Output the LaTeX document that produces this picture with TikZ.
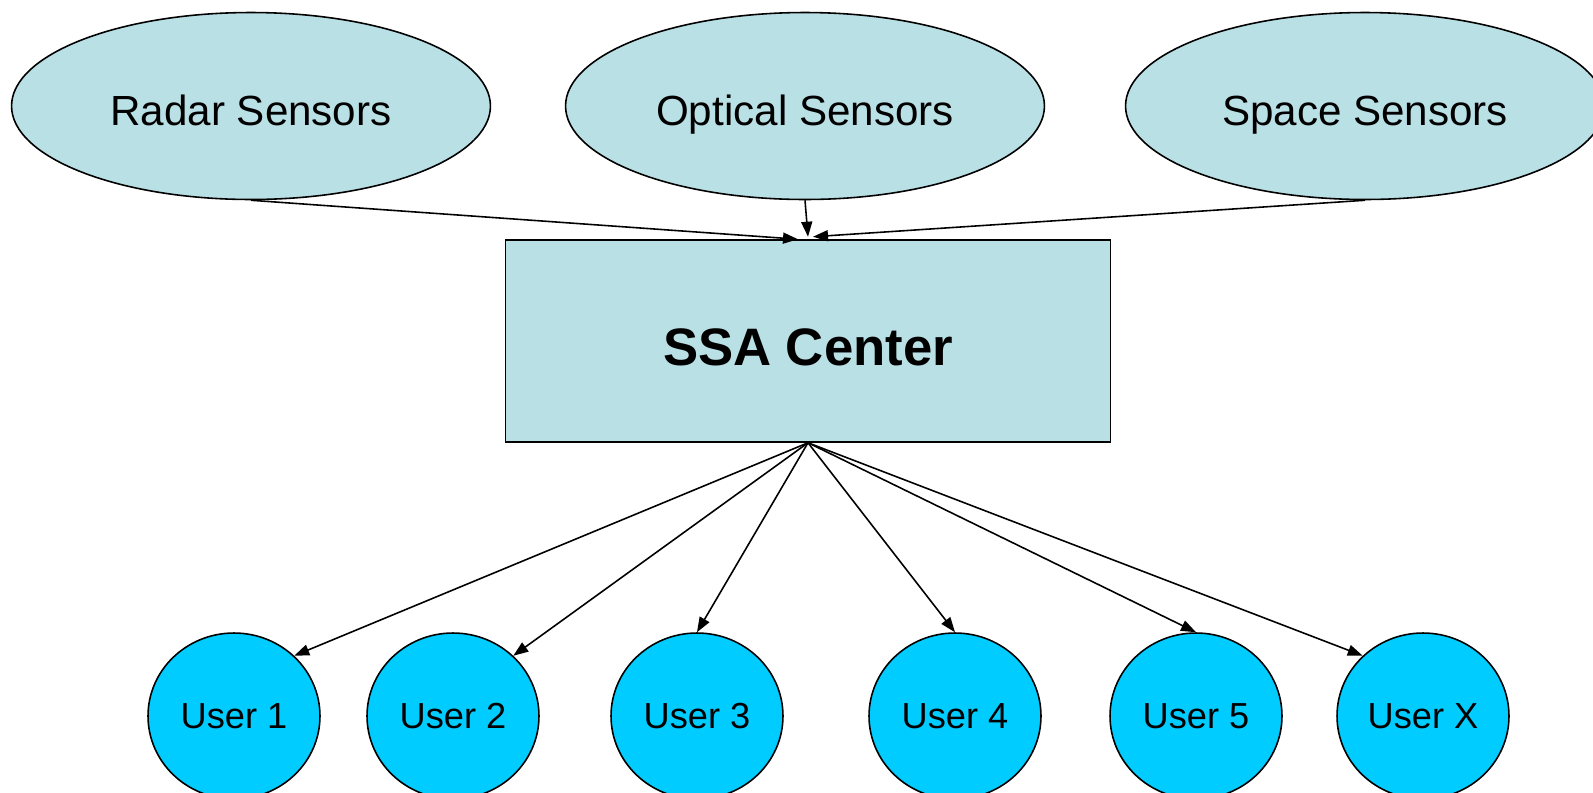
\documentclass[tikz,border=0pt]{standalone}
\usepackage{fontspec}
\setmainfont{Liberation Sans}
\usetikzlibrary{arrows.meta, positioning, shapes.geometric}
\definecolor{SensorBlue}{RGB}{185, 224, 229}
\definecolor{UserCyan}{RGB}{0, 204, 255}

\begin{document}
\begin{tikzpicture}[x=0.02cm, y=-0.02cm, >={Triangle[length=0.3cm, width=0.22cm]}, line width=0.9pt]
        \useasboundingbox (0,0) rectangle (1593,792);
        \tikzset{
            sensor/.style={ellipse, draw, fill=SensorBlue, inner sep=0pt,
                text height=0.76cm, text depth=0cm,
                minimum width=9.58cm, minimum height=3.74cm, font=\fontsize{24}{28}\selectfont},
            center/.style={rectangle, draw, fill=SensorBlue, inner sep=0pt,
                text height=0.96cm, text depth=0cm,
                minimum width=12.1cm, minimum height=4.04cm, font=\fontsize{30}{36}\selectfont\bfseries},
            user/.style={ellipse, draw, fill=UserCyan, inner sep=0pt,
                minimum width=3.44cm, minimum height=3.32cm, font=\fontsize{20.6}{24}\selectfont}
        }
        % Sensors
        \node[sensor] (radar) at (251,106) {Radar Sensors};
        \node[sensor] (optical) at (805,106) {Optical Sensors};
        \node[sensor] (space) at (1365,106) {Space Sensors};
        % Processing center
        \node[center] (ssa) at (808,341) {SSA Center};
        % Users
        \node[user] (user1) at (234,716) {User 1};
        \node[user] (user2) at (453,716) {User 2};
        \node[user] (user3) at (697,716) {User 3};
        \node[user] (user4) at (955,716) {User 4};
        \node[user] (user5) at (1196,716) {User 5};
        \node[user] (userx) at (1423,716) {User X};
        % Sensor feeds
        \draw[->] (radar.south) -- ([xshift=-0.2cm]ssa.north);
        \draw[->] (optical.south) -- ([yshift=0.05cm]ssa.north);
        \draw[->] (space.south) -- ([xshift=0.1cm, yshift=0.05cm]ssa.north);
        % Distribution to users
        \foreach \u/\a in {user1/45, user2/45, user3/90, user4/90, user5/90, userx/135} {
            \draw[->] (ssa.south) -- (\u.\a);
        }
    \end{tikzpicture}
\end{document}
